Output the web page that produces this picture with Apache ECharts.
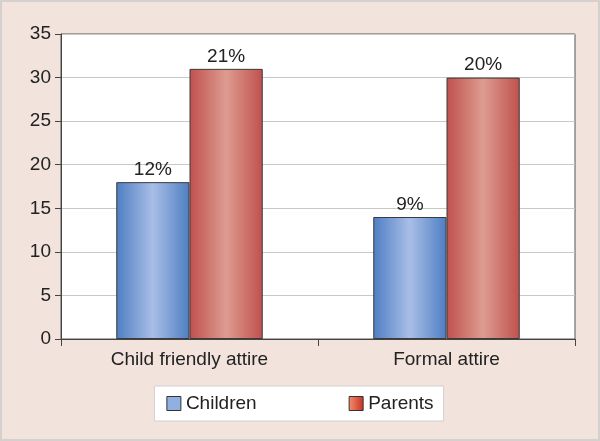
<!DOCTYPE html>
<html>
<head>
<meta charset="utf-8">
<script src="https://cdn.jsdelivr.net/npm/echarts@6/dist/echarts.min.js"></script>
<style>
html,body{margin:0;padding:0;}
#chart{width:600px;height:441px;box-sizing:border-box;border:2px solid #d4d0ce;background:#f3e3dd;}
</style>
</head>
<body>
<div id="chart"></div>
<script>
var categories = ['Child friendly attire', 'Formal attire'];
var children = [18, 14];
var parents = [31, 30];
var childrenLabels = ['12%', '9%'];
var parentsLabels = ['21%', '20%'];

function barGrad(edge, mid){
    return new echarts.graphic.LinearGradient(0, 0, 1, 0, [
        {offset: 0, color: edge},
        {offset: 0.5, color: mid},
        {offset: 1, color: edge}
    ]);
}

var chart = echarts.init(document.getElementById('chart'));
var labelStyle = {show: true, position: 'top', fontSize: 19, color: '#222', fontFamily: 'Liberation Sans', distance: 3};
var option = {
    animation: false,
    textStyle: {fontFamily: 'Liberation Sans'},
    grid: {left: 59, right: 23, top: 32, bottom: 100, show: true, backgroundColor: '#fff', borderColor: '#555', borderWidth: 1},
    xAxis: {
        type: 'category',
        data: categories,
        axisLine: {lineStyle: {color: '#444'}},
        axisTick: {show: true, length: 7, lineStyle: {color: '#444'}},
        axisLabel: {fontSize: 19, color: '#222', margin: 11}
    },
    yAxis: {
        type: 'value',
        min: 0, max: 35, interval: 5,
        axisLine: {show: true, lineStyle: {color: '#444'}},
        axisTick: {show: true, length: 6, lineStyle: {color: '#444'}},
        axisLabel: {fontSize: 19, color: '#222', margin: 10},
        splitLine: {lineStyle: {color: '#c8c8c8'}}
    },
    legend: {
        bottom: 18,
        left: 'center',
        itemGap: 92,
        itemWidth: 14, itemHeight: 14,
        icon: 'rect',
        padding: [8, 10, 8, 12],
        backgroundColor: '#fff',
        borderColor: '#d0d0d0',
        borderWidth: 1,
        textStyle: {fontSize: 19, color: '#222'},
        data: [
            {name: 'Children', itemStyle: {color: '#8fb0e0', borderColor: '#333', borderWidth: 1}},
            {name: 'Parents', itemStyle: {color: new echarts.graphic.LinearGradient(0, 0, 1, 0, [{offset: 0, color: '#f29070'}, {offset: 1, color: '#c83020'}]), borderColor: '#333', borderWidth: 1}}
        ]
    },
    series: [
        {
            name: 'Children', type: 'bar', data: children,
            barGap: '0%', barCategoryGap: '43%',
            itemStyle: {color: barGrad('#4e7ec3', '#a9bee7'), borderColor: '#3a3a3a', borderWidth: 1},
            label: Object.assign({formatter: function(p){ return childrenLabels[p.dataIndex]; }}, labelStyle)
        },
        {
            name: 'Parents', type: 'bar', data: parents,
            itemStyle: {color: barGrad('#c0504d', '#dd9c90'), borderColor: '#3a3a3a', borderWidth: 1},
            label: Object.assign({formatter: function(p){ return parentsLabels[p.dataIndex]; }}, labelStyle)
        }
    ]
};
chart.setOption(option);
</script>
</body>
</html>
